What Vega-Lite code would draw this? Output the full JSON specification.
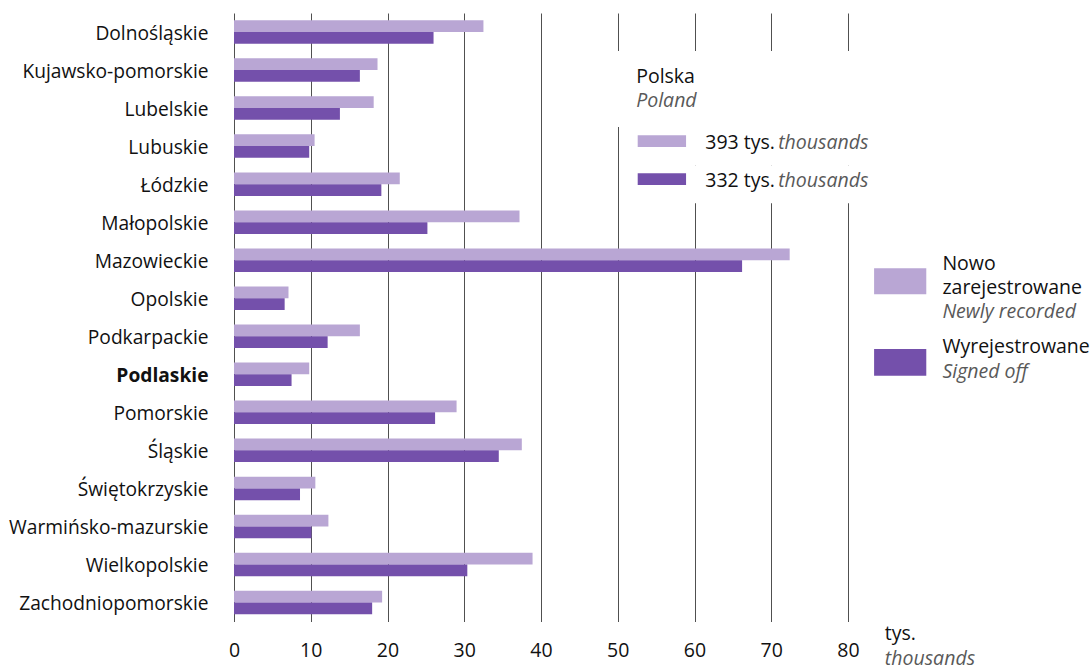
{
  "$schema": "https://vega.github.io/schema/vega-lite/v6.json",
  "width": 614,
  "height": 608.5,
  "autosize": "none",
  "padding": {"left": 234, "top": 13, "right": 242, "bottom": 46.5},
  "background": "white",
  "config": {
    "view": {"stroke": null},
    "font": "Open Sans",
    "text": {"font": "Open Sans", "fontSize": 19.5, "align": "left", "baseline": "alphabetic"}
  },
  "encoding": {
    "y": {
      "field": "region", "type": "nominal",
      "scale": {"domain": ["Dolnośląskie","Kujawsko-pomorskie","Lubelskie","Lubuskie","Łódzkie","Małopolskie","Mazowieckie","Opolskie","Podkarpackie","Podlaskie","Pomorskie","Śląskie","Świętokrzyskie","Warmińsko-mazurskie","Wielkopolskie","Zachodniopomorskie"], "paddingInner": 0, "paddingOuter": 0},
      "axis": {"title": null, "ticks": false, "domain": false, "grid": false, "labelPadding": 26, "labelOffset": 2, "labelLimit": 400, "labelFont": "Open Sans", "labelFontSize": 19.2, "labelColor": "#111111",
        "labelFontWeight": {"condition": {"test": "datum.value === 'Podlaskie'", "value": "bold"}, "value": "normal"}}
    },
    "x": {
      "field": "value", "type": "quantitative",
      "scale": {"domain": [0, 80], "nice": false, "zero": true},
      "axis": {"title": null, "values": [0,10,20,30,40,50,60,70,80], "grid": true, "gridColor": "#505050", "gridWidth": 1, "domain": false, "ticks": false, "labelPadding": 20, "labelFont": "Open Sans", "labelFontSize": 19.5, "labelColor": "#111111", "labelFlush": false}
    }
  },
  "layer": [
    {
      "data": {"values": [
        {"region": "Dolnośląskie", "series": "Nowo zarejestrowane", "value": 32.5},
        {"region": "Dolnośląskie", "series": "Wyrejestrowane", "value": 26.0},
        {"region": "Kujawsko-pomorskie", "series": "Nowo zarejestrowane", "value": 18.7},
        {"region": "Kujawsko-pomorskie", "series": "Wyrejestrowane", "value": 16.4},
        {"region": "Lubelskie", "series": "Nowo zarejestrowane", "value": 18.2},
        {"region": "Lubelskie", "series": "Wyrejestrowane", "value": 13.8},
        {"region": "Lubuskie", "series": "Nowo zarejestrowane", "value": 10.5},
        {"region": "Lubuskie", "series": "Wyrejestrowane", "value": 9.8},
        {"region": "Łódzkie", "series": "Nowo zarejestrowane", "value": 21.6},
        {"region": "Łódzkie", "series": "Wyrejestrowane", "value": 19.2},
        {"region": "Małopolskie", "series": "Nowo zarejestrowane", "value": 37.2},
        {"region": "Małopolskie", "series": "Wyrejestrowane", "value": 25.2},
        {"region": "Mazowieckie", "series": "Nowo zarejestrowane", "value": 72.4},
        {"region": "Mazowieckie", "series": "Wyrejestrowane", "value": 66.2},
        {"region": "Opolskie", "series": "Nowo zarejestrowane", "value": 7.1},
        {"region": "Opolskie", "series": "Wyrejestrowane", "value": 6.6},
        {"region": "Podkarpackie", "series": "Nowo zarejestrowane", "value": 16.4},
        {"region": "Podkarpackie", "series": "Wyrejestrowane", "value": 12.2},
        {"region": "Podlaskie", "series": "Nowo zarejestrowane", "value": 9.8},
        {"region": "Podlaskie", "series": "Wyrejestrowane", "value": 7.5},
        {"region": "Pomorskie", "series": "Nowo zarejestrowane", "value": 29.0},
        {"region": "Pomorskie", "series": "Wyrejestrowane", "value": 26.2},
        {"region": "Śląskie", "series": "Nowo zarejestrowane", "value": 37.5},
        {"region": "Śląskie", "series": "Wyrejestrowane", "value": 34.5},
        {"region": "Świętokrzyskie", "series": "Nowo zarejestrowane", "value": 10.6},
        {"region": "Świętokrzyskie", "series": "Wyrejestrowane", "value": 8.6},
        {"region": "Warmińsko-mazurskie", "series": "Nowo zarejestrowane", "value": 12.3},
        {"region": "Warmińsko-mazurskie", "series": "Wyrejestrowane", "value": 10.1},
        {"region": "Wielkopolskie", "series": "Nowo zarejestrowane", "value": 38.9},
        {"region": "Wielkopolskie", "series": "Wyrejestrowane", "value": 30.4},
        {"region": "Zachodniopomorskie", "series": "Nowo zarejestrowane", "value": 19.3},
        {"region": "Zachodniopomorskie", "series": "Wyrejestrowane", "value": 18.0}
      ]},
      "mark": {"type": "bar"},
      "encoding": {
        "yOffset": {"field": "series", "type": "nominal", "scale": {"domain": ["Nowo zarejestrowane", "Wyrejestrowane"], "paddingInner": 0, "paddingOuter": 0.62}},
        "color": {"field": "series", "type": "nominal", "scale": {"domain": ["Nowo zarejestrowane", "Wyrejestrowane"], "range": ["#b9a6d4", "#7450ab"]}, "legend": null}
      }
    },
    {
      "data": {"values": [
        {"region": "Kujawsko-pomorskie", "value": 48.5, "value2": 84},
        {"region": "Lubelskie", "value": 48.5, "value2": 84},
        {"region": "Lubuskie", "value": 50.6, "value2": 84},
        {"region": "Łódzkie", "value": 50.6, "value2": 84}
      ]},
      "mark": {"type": "bar", "color": "white"},
      "encoding": {"x2": {"field": "value2"}}
    },
    {
      "data": {"values": [
        {"region": "Lubuskie", "series": "Nowo zarejestrowane", "value": 52.6, "value2": 58.9},
        {"region": "Łódzkie", "series": "Wyrejestrowane", "value": 52.6, "value2": 58.9}
      ]},
      "mark": {"type": "bar", "height": 11.7, "yOffset": -5},
      "encoding": {"x2": {"field": "value2"}, "color": {"field": "series", "type": "nominal", "legend": null}}
    },
    {
      "data": {"values": [
        {"region": "Opolskie", "series": "Nowo zarejestrowane", "value": 83.4, "value2": 90.2}
      ]},
      "mark": {"type": "bar", "height": 26, "yOffset": -16.9},
      "encoding": {"x2": {"field": "value2"}, "color": {"field": "series", "type": "nominal", "legend": null}}
    },
    {
      "data": {"values": [
        {"region": "Podlaskie", "series": "Wyrejestrowane", "value": 83.4, "value2": 90.2}
      ]},
      "mark": {"type": "bar", "height": 26.7, "yOffset": -12},
      "encoding": {"x2": {"field": "value2"}, "color": {"field": "series", "type": "nominal", "legend": null}}
    },
    {
      "data": {"values": [{"region": "Kujawsko-pomorskie", "value": 52.4, "label": "Polska"}]},
      "mark": {"type": "text", "dy": 13, "color": "#111111"},
      "encoding": {"text": {"field": "label"}}
    },
    {
      "data": {"values": [{"region": "Lubelskie", "value": 52.4, "label": "Poland"}]},
      "mark": {"type": "text", "dy": -1.2, "color": "#595959", "fontStyle": "italic"},
      "encoding": {"text": {"field": "label"}}
    },
    {
      "data": {"values": [
        {"region": "Lubuskie", "value": 61.4, "label": "393 tys."},
        {"region": "Łódzkie", "value": 61.4, "label": "332 tys."}
      ]},
      "mark": {"type": "text", "dy": 3.2, "color": "#111111"},
      "encoding": {"text": {"field": "label"}}
    },
    {
      "data": {"values": [
        {"region": "Lubuskie", "value": 70.9, "label": "thousands"},
        {"region": "Łódzkie", "value": 70.9, "label": "thousands"}
      ]},
      "mark": {"type": "text", "dy": 3.2, "color": "#595959", "fontStyle": "italic"},
      "encoding": {"text": {"field": "label"}}
    },
    {
      "data": {"values": [{"region": "Mazowieckie", "value": 92.3, "label": "Nowo"}]},
      "mark": {"type": "text", "dy": 9.8, "color": "#111111"},
      "encoding": {"text": {"field": "label"}}
    },
    {
      "data": {"values": [{"region": "Opolskie", "value": 92.3, "label": "zarejestrowane"}]},
      "mark": {"type": "text", "dy": -4.2, "color": "#111111"},
      "encoding": {"text": {"field": "label"}}
    },
    {
      "data": {"values": [{"region": "Opolskie", "value": 92.3, "label": "Newly recorded"}]},
      "mark": {"type": "text", "dy": 19.8, "color": "#595959", "fontStyle": "italic"},
      "encoding": {"text": {"field": "label"}}
    },
    {
      "data": {"values": [{"region": "Podkarpackie", "value": 92.3, "label": "Wyrejestrowane"}]},
      "mark": {"type": "text", "dy": 16.8, "color": "#111111"},
      "encoding": {"text": {"field": "label"}}
    },
    {
      "data": {"values": [{"region": "Podlaskie", "value": 92.3, "label": "Signed off"}]},
      "mark": {"type": "text", "dy": 3.7, "color": "#595959", "fontStyle": "italic"},
      "encoding": {"text": {"field": "label"}}
    },
    {
      "data": {"values": [{"region": "Zachodniopomorskie", "value": 84.8, "label": "tys."}]},
      "mark": {"type": "text", "dy": 37.5, "color": "#111111"},
      "encoding": {"text": {"field": "label"}}
    },
    {
      "data": {"values": [{"region": "Zachodniopomorskie", "value": 84.8, "label": "thousands"}]},
      "mark": {"type": "text", "dy": 62.5, "color": "#595959", "fontStyle": "italic"},
      "encoding": {"text": {"field": "label"}}
    }
  ]
}
